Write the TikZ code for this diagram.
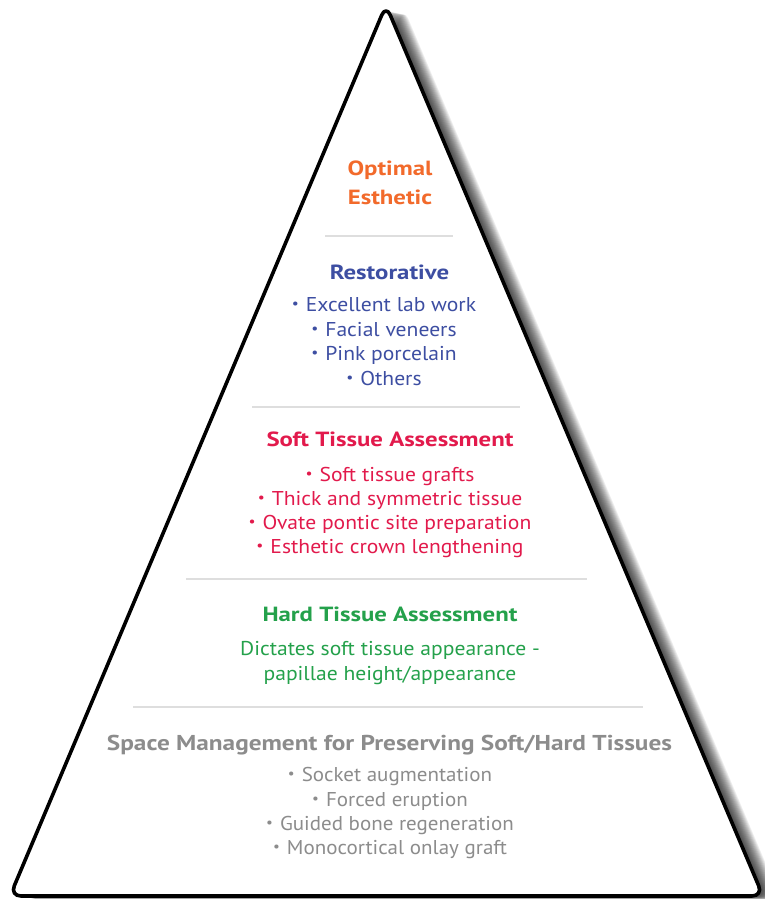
\documentclass[tikz,border=0pt]{standalone}
\usepackage{fontspec}
\usepackage{graphicx}
\setmainfont{PT Sans}
\newfontfamily\itemfont[FakeStretch=1.08]{PT Sans}
\newfontfamily\headfont[FakeStretch=1.21]{PT Sans}
\newfontfamily\grayheadfont[FakeStretch=1.175]{PT Sans}
\newfontfamily\grayitemfont[FakeStretch=1.05]{PT Sans}
\newcommand{\bul}{\raisebox{0.15em}{\scalebox{0.72}{•}}\hspace{0.35em}}
\definecolor{corange}{HTML}{F26A2B}
\definecolor{cblue}{HTML}{3D4EA2}
\definecolor{cred}{HTML}{E21A4C}
\definecolor{cgreen}{HTML}{24A14B}
\definecolor{cgray}{HTML}{8C8C8C}
\definecolor{csep}{HTML}{DEDEDE}
\tikzset{
  head/.style={font=\fontsize{20.5}{24}\headfont\bfseries, inner sep=0pt, anchor=base},
  items/.style={font=\fontsize{20}{24}\itemfont, inner sep=0pt, anchor=base},
  grayitems/.style={items, text=cgray, font=\fontsize{20}{24}\grayitemfont},
  sepline/.style={draw=csep, line width=1.6pt},
  pyr/.style={rounded corners=11pt, line width=3.6pt, line join=round}
}
\begin{document}
\begin{tikzpicture}[x=1pt,y=-1pt]
\useasboundingbox (0,0) rectangle (764,899);
% shadow
\foreach \k in {1,...,18}{
  \fill[black, opacity=0.065, rounded corners=11pt] (386+\k*1.0,5+\k*0.2) -- ++(-376,891) -- ++(753,0) -- cycle;
}
\coordinate (apex) at (386,5);
\coordinate (bl) at (10,896);
\coordinate (br) at (763,896);
\draw[pyr, fill=white] (apex) -- (bl) -- (br) -- cycle;
% separators
\draw[sepline] (325,236) -- (453,236);
\draw[sepline] (252,407) -- (520,407);
\draw[sepline] (186,579) -- (587,579);
\draw[sepline] (133,707) -- (643,707);
% optimal
\node[head, text=corange] (opt1) at (390,175) {Optimal};
\node[head, text=corange] (opt2) at (390,204) {Esthetic};
% restorative
\node[head, text=cblue] (rest) at (389.5,279) {Restorative};
\node[items, text=cblue] (r1) at (384,311.5) {\bul Excellent lab work};
\node[items, text=cblue] (r2) at (384,336) {\bul Facial veneers};
\node[items, text=cblue] (r3) at (384,360.5) {\bul Pink porcelain};
\node[items, text=cblue] (r4) at (384,385) {\bul Others};
% soft
\node[head, text=cred] (soft) at (390,446) {Soft Tissue Assessment};
\node[items, text=cred] (s1) at (390,481) {\bul Soft tissue grafts};
\node[items, text=cred] (s2) at (390,505) {\bul Thick and symmetric tissue};
\node[items, text=cred] (s3) at (390,529) {\bul Ovate pontic site preparation};
\node[items, text=cred] (s4) at (390,553) {\bul Esthetic crown lengthening};
% hard
\node[head, text=cgreen] (hard) at (390,621.5) {Hard Tissue Assessment};
\node[items, text=cgreen] (h1) at (390,655) {Dictates soft tissue appearance -};
\node[items, text=cgreen] (h2) at (390,680.5) {papillae height/appearance};
% space
\node[head, text=cgray, font=\fontsize{21.5}{24}\grayheadfont\bfseries] (space) at (389.5,750) {Space Management for Preserving Soft/Hard Tissues};
\node[grayitems] (g1) at (390,781.5) {\bul Socket augmentation};
\node[grayitems] (g2) at (390,806) {\bul Forced eruption};
\node[grayitems] (g3) at (390,830) {\bul Guided bone regeneration};
\node[grayitems] (g4) at (390,854) {\bul Monocortical onlay graft};
\end{tikzpicture}
\end{document}
